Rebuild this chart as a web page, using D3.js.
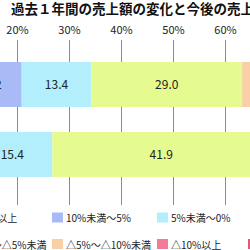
<!DOCTYPE html>
<html>
<head>
<meta charset="utf-8">
<script src="https://cdn.jsdelivr.net/npm/d3@7"></script>
<style>
  body { margin: 0; background: #fff; }
  svg { display: block; font-family: "Noto Sans CJK JP", sans-serif; }
</style>
</head>
<body>
<svg id="chart" width="250" height="250"></svg>
<script>
// rows of the chart
var periods = ["過去１年間", "今後の見通し"]

// answer groups, left to right in each bar
var groups = ["10%以上", "10%未満～5%", "5%未満～0%", "0%～△5%未満", "△5%～△10%未満", "△10%以上", "無回答"]
var groupColors = ["#7f9ef0", "#a8bbf6", "#b2eefb", "#e5fb8f", "#f9cfa6", "#f47a9a", "#e2587a"]

// share of answers (%)
var pastValues = [8.6, 12.2, 13.4, 29.0, 22.4, 9.6, 4.8]
var futureValues = [4.1, 7.2, 15.4, 41.9, 18.6, 8.2, 4.6]

var tickValues = [0, 10, 20, 30, 40, 50, 60, 70, 80, 90, 100]
var title = "過去１年間の売上額の変化と今後の売上見通し"

var svg = d3.select("#chart")

var rows = [pastValues, futureValues].map(function (vals, i) {
  var r = { period: periods[i] }
  groups.forEach(function (g, j) { r[g] = vals[j] })
  return r
})

var x = d3.scaleLinear().domain([0, 100]).range([-86.5, 433.5])
var y = d3.scaleBand().domain(periods).range([40, 205])
  .paddingInner(0.357).paddingOuter(0.357).align(0.44)
var color = d3.scaleOrdinal().domain(groups).range(groupColors)

svg.append("text")
  .attr("x", 11)
  .attr("y", 14)
  .attr("font-size", 13.5)
  .attr("font-weight", "bold")
  .attr("fill", "#111")
  .text(title)

// grid + top axis labels
svg.append("g")
  .selectAll("line")
  .data(tickValues)
  .enter()
  .append("line")
  .attr("x1", function (d) { return x(d) })
  .attr("x2", function (d) { return x(d) })
  .attr("y1", 40)
  .attr("y2", 205)
  .attr("stroke", "#8c8c8c")
  .attr("stroke-width", 1)

svg.append("g")
  .selectAll("text")
  .data(tickValues)
  .enter()
  .append("text")
  .attr("x", function (d) { return x(d) })
  .attr("y", 34)
  .attr("text-anchor", "middle")
  .attr("font-size", 11)
  .attr("fill", "#222")
  .text(function (d) { return d + "%" })

var stacked = d3.stack().keys(groups)(rows)

var layer = svg.append("g")
  .selectAll("g")
  .data(stacked)
  .enter()
  .append("g")
  .attr("fill", function (d) { return color(d.key) })

layer.selectAll("rect")
  .data(function (d) { return d })
  .enter()
  .append("rect")
  .attr("x", function (d) { return x(d[0]) })
  .attr("y", function (d) { return y(d.data.period) })
  .attr("width", function (d) { return x(d[1]) - x(d[0]) })
  .attr("height", y.bandwidth())

layer.selectAll("text")
  .data(function (d) { return d })
  .enter()
  .append("text")
  .attr("x", function (d) { return (x(d[0]) + x(d[1])) / 2 })
  .attr("y", function (d) { return y(d.data.period) + y.bandwidth() / 2 + 4.5 })
  .attr("text-anchor", "middle")
  .attr("font-size", 12)
  .attr("fill", "#222")
  .text(function (d) { return (d[1] - d[0]).toFixed(1) })

// row names sit left of the plot
svg.append("g")
  .selectAll("text")
  .data(periods)
  .enter()
  .append("text")
  .attr("x", x(0) - 6)
  .attr("y", function (d) { return y(d) + y.bandwidth() / 2 + 4 })
  .attr("text-anchor", "end")
  .attr("font-size", 11)
  .text(function (d) { return d })

// legend: two rows, columns sized to their widest label
var legendRows = [[0, 1, 2], [3, 4, 5, 6]]
var legendColX = [-37, 52, 157, 248]
var legendRowY = [212.5, 239]

var legendItems = []
legendRows.forEach(function (r, ri) {
  r.forEach(function (gi, ci) {
    legendItems.push({ name: groups[gi], col: ci, row: ri })
  })
})

var leg = svg.append("g")
  .selectAll("g")
  .data(legendItems)
  .enter()
  .append("g")
  .attr("transform", function (d) {
    return "translate(" + legendColX[d.col] + "," + legendRowY[d.row] + ")"
  })

leg.append("rect")
  .attr("width", 11)
  .attr("height", 10)
  .attr("fill", function (d) { return color(d.name) })

leg.append("text")
  .attr("x", 14)
  .attr("y", 9.5)
  .attr("font-size", 10)
  .attr("fill", "#222")
  .text(function (d) { return d.name })
</script>
</body>
</html>
